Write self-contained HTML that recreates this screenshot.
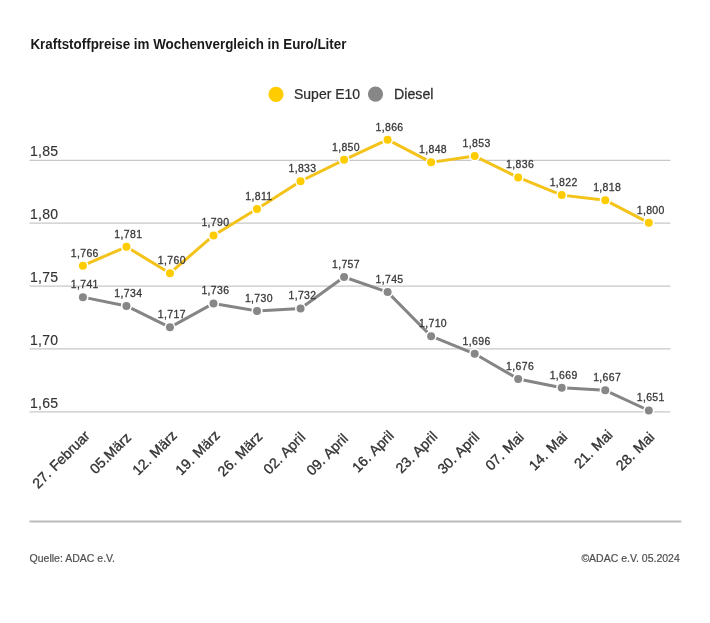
<!DOCTYPE html>
<html><head><meta charset="utf-8"><style>
html,body{margin:0;padding:0;background:#fff;}
body{width:710px;height:623px;overflow:hidden;position:relative;font-family:"Liberation Sans",sans-serif;}
svg{position:absolute;left:0;top:0;will-change:transform;}
.ax{font-size:14px;fill:#333333;letter-spacing:0.3px;stroke:#333333;stroke-width:0.15px;}
.lb{font-size:10.5px;fill:#3a3a3a;text-anchor:middle;stroke:#3a3a3a;stroke-width:0.3px;letter-spacing:0.35px;}
.xl{word-spacing:0.8px;font-size:14.2px;fill:#333;text-anchor:end;stroke:#333;stroke-width:0.35px;}
.t{position:absolute;left:30px;top:35px;font-size:13.4px;font-weight:bold;color:#1a1a1a;white-space:nowrap;}
</style></head><body>
<svg width="710" height="623" viewBox="0 0 710 623">
<text transform="translate(30.4,48.6) scale(0.893,1)" style="font-size:15px;font-weight:bold;fill:#1a1a1a">Kraftstoffpreise im Wochenvergleich in Euro/Liter</text>
<circle cx="276" cy="94.3" r="7.6" fill="#FFCC00"/>
<text transform="translate(294,98.8) scale(0.946,1)" style="font-size:14.8px;fill:#2e2e2e;stroke:#2e2e2e;stroke-width:0.25px">Super E10</text>
<circle cx="375.5" cy="94.1" r="7.6" fill="#878787"/>
<text transform="translate(394,98.8) scale(0.96,1)" style="font-size:14.8px;fill:#2e2e2e;stroke:#2e2e2e;stroke-width:0.25px">Diesel</text>
<line x1="29.5" x2="670.5" y1="160.30" y2="160.30" stroke="#c8c8c8" stroke-width="1.3"/>
<text x="30" y="156.00" class="ax">1,85</text>
<line x1="29.5" x2="670.5" y1="223.18" y2="223.18" stroke="#c8c8c8" stroke-width="1.3"/>
<text x="30" y="218.88" class="ax">1,80</text>
<line x1="29.5" x2="670.5" y1="286.05" y2="286.05" stroke="#c8c8c8" stroke-width="1.3"/>
<text x="30" y="281.75" class="ax">1,75</text>
<line x1="29.5" x2="670.5" y1="348.93" y2="348.93" stroke="#c8c8c8" stroke-width="1.3"/>
<text x="30" y="344.63" class="ax">1,70</text>
<line x1="29.5" x2="670.5" y1="411.80" y2="411.80" stroke="#c8c8c8" stroke-width="1.3"/>
<text x="30" y="407.50" class="ax">1,65</text>
<polyline points="82.90,297.14 126.43,305.95 169.96,327.36 213.49,303.43 257.02,310.99 300.55,308.47 344.08,276.98 387.61,292.10 431.14,336.18 474.67,353.81 518.20,379.00 561.73,387.82 605.26,390.34 648.79,410.49" fill="none" stroke="#858585" stroke-width="3.0" stroke-linejoin="round"/>
<circle cx="82.90" cy="297.14" r="5.6" fill="#fff"/>
<circle cx="82.90" cy="297.14" r="4.0" fill="#878787"/>
<circle cx="126.43" cy="305.95" r="5.6" fill="#fff"/>
<circle cx="126.43" cy="305.95" r="4.0" fill="#878787"/>
<circle cx="169.96" cy="327.36" r="5.6" fill="#fff"/>
<circle cx="169.96" cy="327.36" r="4.0" fill="#878787"/>
<circle cx="213.49" cy="303.43" r="5.6" fill="#fff"/>
<circle cx="213.49" cy="303.43" r="4.0" fill="#878787"/>
<circle cx="257.02" cy="310.99" r="5.6" fill="#fff"/>
<circle cx="257.02" cy="310.99" r="4.0" fill="#878787"/>
<circle cx="300.55" cy="308.47" r="5.6" fill="#fff"/>
<circle cx="300.55" cy="308.47" r="4.0" fill="#878787"/>
<circle cx="344.08" cy="276.98" r="5.6" fill="#fff"/>
<circle cx="344.08" cy="276.98" r="4.0" fill="#878787"/>
<circle cx="387.61" cy="292.10" r="5.6" fill="#fff"/>
<circle cx="387.61" cy="292.10" r="4.0" fill="#878787"/>
<circle cx="431.14" cy="336.18" r="5.6" fill="#fff"/>
<circle cx="431.14" cy="336.18" r="4.0" fill="#878787"/>
<circle cx="474.67" cy="353.81" r="5.6" fill="#fff"/>
<circle cx="474.67" cy="353.81" r="4.0" fill="#878787"/>
<circle cx="518.20" cy="379.00" r="5.6" fill="#fff"/>
<circle cx="518.20" cy="379.00" r="4.0" fill="#878787"/>
<circle cx="561.73" cy="387.82" r="5.6" fill="#fff"/>
<circle cx="561.73" cy="387.82" r="4.0" fill="#878787"/>
<circle cx="605.26" cy="390.34" r="5.6" fill="#fff"/>
<circle cx="605.26" cy="390.34" r="4.0" fill="#878787"/>
<circle cx="648.79" cy="410.49" r="5.6" fill="#fff"/>
<circle cx="648.79" cy="410.49" r="4.0" fill="#878787"/>
<polyline points="82.90,265.65 126.43,246.76 169.96,273.21 213.49,235.42 257.02,208.97 300.55,181.26 344.08,159.85 387.61,139.70 431.14,162.37 474.67,156.07 518.20,177.48 561.73,195.12 605.26,200.15 648.79,222.83" fill="none" stroke="#F3C31A" stroke-width="3.0" stroke-linejoin="round"/>
<circle cx="82.90" cy="265.65" r="5.6" fill="#fff"/>
<circle cx="82.90" cy="265.65" r="4.0" fill="#FFCC00"/>
<circle cx="126.43" cy="246.76" r="5.6" fill="#fff"/>
<circle cx="126.43" cy="246.76" r="4.0" fill="#FFCC00"/>
<circle cx="169.96" cy="273.21" r="5.6" fill="#fff"/>
<circle cx="169.96" cy="273.21" r="4.0" fill="#FFCC00"/>
<circle cx="213.49" cy="235.42" r="5.6" fill="#fff"/>
<circle cx="213.49" cy="235.42" r="4.0" fill="#FFCC00"/>
<circle cx="257.02" cy="208.97" r="5.6" fill="#fff"/>
<circle cx="257.02" cy="208.97" r="4.0" fill="#FFCC00"/>
<circle cx="300.55" cy="181.26" r="5.6" fill="#fff"/>
<circle cx="300.55" cy="181.26" r="4.0" fill="#FFCC00"/>
<circle cx="344.08" cy="159.85" r="5.6" fill="#fff"/>
<circle cx="344.08" cy="159.85" r="4.0" fill="#FFCC00"/>
<circle cx="387.61" cy="139.70" r="5.6" fill="#fff"/>
<circle cx="387.61" cy="139.70" r="4.0" fill="#FFCC00"/>
<circle cx="431.14" cy="162.37" r="5.6" fill="#fff"/>
<circle cx="431.14" cy="162.37" r="4.0" fill="#FFCC00"/>
<circle cx="474.67" cy="156.07" r="5.6" fill="#fff"/>
<circle cx="474.67" cy="156.07" r="4.0" fill="#FFCC00"/>
<circle cx="518.20" cy="177.48" r="5.6" fill="#fff"/>
<circle cx="518.20" cy="177.48" r="4.0" fill="#FFCC00"/>
<circle cx="561.73" cy="195.12" r="5.6" fill="#fff"/>
<circle cx="561.73" cy="195.12" r="4.0" fill="#FFCC00"/>
<circle cx="605.26" cy="200.15" r="5.6" fill="#fff"/>
<circle cx="605.26" cy="200.15" r="4.0" fill="#FFCC00"/>
<circle cx="648.79" cy="222.83" r="5.6" fill="#fff"/>
<circle cx="648.79" cy="222.83" r="4.0" fill="#FFCC00"/>
<text transform="translate(84.80,288.04) scale(1.0,0.97)" class="lb">1,741</text>
<text transform="translate(128.33,296.85) scale(1.0,0.97)" class="lb">1,734</text>
<text transform="translate(171.86,318.26) scale(1.0,0.97)" class="lb">1,717</text>
<text transform="translate(215.39,294.33) scale(1.0,0.97)" class="lb">1,736</text>
<text transform="translate(258.92,301.89) scale(1.0,0.97)" class="lb">1,730</text>
<text transform="translate(302.45,299.37) scale(1.0,0.97)" class="lb">1,732</text>
<text transform="translate(345.98,267.88) scale(1.0,0.97)" class="lb">1,757</text>
<text transform="translate(389.51,283.00) scale(1.0,0.97)" class="lb">1,745</text>
<text transform="translate(433.04,327.08) scale(1.0,0.97)" class="lb">1,710</text>
<text transform="translate(476.57,344.71) scale(1.0,0.97)" class="lb">1,696</text>
<text transform="translate(520.10,369.90) scale(1.0,0.97)" class="lb">1,676</text>
<text transform="translate(563.63,378.72) scale(1.0,0.97)" class="lb">1,669</text>
<text transform="translate(607.16,381.24) scale(1.0,0.97)" class="lb">1,667</text>
<text transform="translate(650.69,401.39) scale(1.0,0.97)" class="lb">1,651</text>
<text transform="translate(84.80,256.55) scale(1.0,0.97)" class="lb">1,766</text>
<text transform="translate(128.33,237.66) scale(1.0,0.97)" class="lb">1,781</text>
<text transform="translate(171.86,264.11) scale(1.0,0.97)" class="lb">1,760</text>
<text transform="translate(215.39,226.32) scale(1.0,0.97)" class="lb">1,790</text>
<text transform="translate(258.92,199.87) scale(1.0,0.97)" class="lb">1,811</text>
<text transform="translate(302.45,172.16) scale(1.0,0.97)" class="lb">1,833</text>
<text transform="translate(345.98,150.75) scale(1.0,0.97)" class="lb">1,850</text>
<text transform="translate(389.51,130.60) scale(1.0,0.97)" class="lb">1,866</text>
<text transform="translate(433.04,153.27) scale(1.0,0.97)" class="lb">1,848</text>
<text transform="translate(476.57,146.97) scale(1.0,0.97)" class="lb">1,853</text>
<text transform="translate(520.10,168.38) scale(1.0,0.97)" class="lb">1,836</text>
<text transform="translate(563.63,186.02) scale(1.0,0.97)" class="lb">1,822</text>
<text transform="translate(607.16,191.05) scale(1.0,0.97)" class="lb">1,818</text>
<text transform="translate(650.69,213.73) scale(1.0,0.97)" class="lb">1,800</text>
<text transform="translate(90.60,436.70) rotate(-45)" class="xl">27. Februar</text>
<text transform="translate(132.03,438.40) rotate(-45)" class="xl">05.März</text>
<text transform="translate(177.86,436.50) rotate(-45)" class="xl">12. März</text>
<text transform="translate(220.89,436.30) rotate(-45)" class="xl">19. März</text>
<text transform="translate(263.22,437.60) rotate(-45)" class="xl">26. März</text>
<text transform="translate(306.15,438.10) rotate(-45)" class="xl">02. April</text>
<text transform="translate(348.98,439.40) rotate(-45)" class="xl">09. April</text>
<text transform="translate(394.81,436.40) rotate(-45)" class="xl">16. April</text>
<text transform="translate(438.34,437.30) rotate(-45)" class="xl">23. April</text>
<text transform="translate(480.27,437.90) rotate(-45)" class="xl">30. April</text>
<text transform="translate(524.70,437.90) rotate(-45)" class="xl">07. Mai</text>
<text transform="translate(568.23,437.70) rotate(-45)" class="xl">14. Mai</text>
<text transform="translate(613.46,435.70) rotate(-45)" class="xl">21. Mai</text>
<text transform="translate(655.29,437.90) rotate(-45)" class="xl">28. Mai</text>
<line x1="29.5" x2="681.3" y1="521.5" y2="521.5" stroke="#bbbbbb" stroke-width="2"/>
<text x="29.6" y="561.8" style="font-size:10.5px;fill:#505050;stroke:#505050;stroke-width:0.2px">Quelle: ADAC e.V.</text>
<text x="679.8" y="561.7" style="font-size:10.5px;fill:#505050;stroke:#505050;stroke-width:0.2px;text-anchor:end">©ADAC e.V. 05.2024</text>
</svg>
</body></html>
